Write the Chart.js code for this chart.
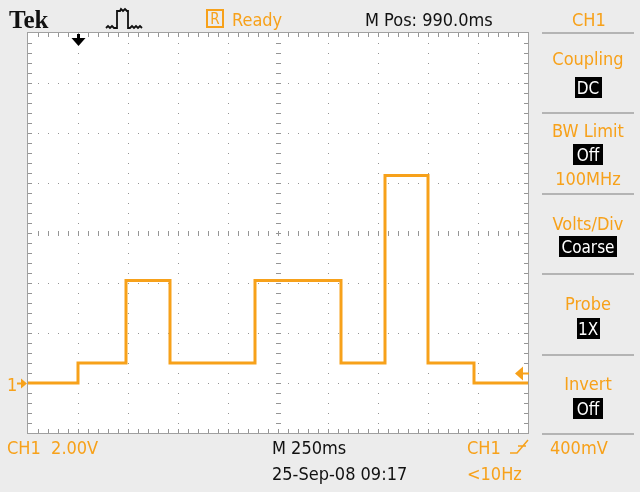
<!DOCTYPE html>
<html>
<head>
<meta charset="utf-8">
<script src="https://cdn.jsdelivr.net/npm/chart.js@4"></script>
<style>
  html, body { margin: 0; background: #ececec; }
  canvas { display: block; }
</style>
</head>
<body>
<canvas id="scope" width="640" height="492"></canvas>
<script>
// CH1 trace: time of each level change (ms from left screen edge) and the new level (V)
const edgeTimes = [0, 250, 490, 710, 1135, 1565, 1785, 2000, 2230, 2500];
const levels = [0, 0.8, 4.1, 0.8, 4.1, 0.8, 8.3, 0.8, 0, 0];

// graticule: 10 x 250 ms, 8 x 2.00 V
const timeDivs = [0, 250, 500, 750, 1000, 1250, 1500, 1750, 2000, 2250, 2500];
const voltDivs = [-2, 0, 2, 4, 6, 8, 10, 12, 14];
const triggerTime = 250;
const triggerLevel = 0.4;

const ORANGE = '#f7a11a';
const GRID = '#959595';
const FONT = '"DejaVu Sans Condensed", "Liberation Sans Narrow", sans-serif';

const scopeScreen = {
  id: 'scopeScreen',
  beforeDraw(chart) {
    const { ctx, chartArea: a, scales: { x, y } } = chart;
    ctx.save();
    ctx.fillStyle = '#ececec';
    ctx.fillRect(0, 0, chart.width, chart.height);
    ctx.fillStyle = '#ffffff';
    ctx.fillRect(a.left, a.top, a.right - a.left, a.bottom - a.top);

    const stepX = (a.right - a.left) / 50;
    const stepY = (a.bottom - a.top) / 40;

    // dotted division lines
    ctx.fillStyle = GRID;
    timeDivs.slice(1, -1).forEach((t) => {
      const px = Math.round(x.getPixelForValue(t));
      for (let py = a.top + stepY; py < a.bottom; py += stepY) {
        ctx.fillRect(px, Math.round(py), 1, 1);
      }
    });
    voltDivs.slice(1, -1).forEach((v) => {
      const py = Math.round(y.getPixelForValue(v));
      for (let px = a.left + stepX; px < a.right; px += stepX) {
        ctx.fillRect(Math.round(px), py, 1, 1);
      }
    });

    // center cross minor ticks
    const cx = Math.round(x.getPixelForValue(1250));
    const cy = Math.round(y.getPixelForValue(6));
    for (let py = a.top + stepY; py < a.bottom; py += stepY) {
      ctx.fillRect(cx - 2, Math.round(py), 5, 1);
    }
    for (let px = a.left + stepX; px < a.right; px += stepX) {
      ctx.fillRect(Math.round(px), cy - 2, 1, 5);
    }

    // frame and edge ticks
    for (let px = a.left + stepX; px < a.right; px += stepX) {
      ctx.fillRect(Math.round(px), a.top, 1, 4);
      ctx.fillRect(Math.round(px), a.bottom - 4, 1, 4);
    }
    for (let py = a.top + stepY; py < a.bottom; py += stepY) {
      ctx.fillRect(a.left, Math.round(py), 4, 1);
      ctx.fillRect(a.right - 4, Math.round(py), 4, 1);
    }
    ctx.strokeStyle = '#a0a0a0';
    ctx.lineWidth = 1;
    ctx.strokeRect(a.left - 0.5, a.top - 0.5, a.right - a.left + 1, a.bottom - a.top + 1);
    ctx.restore();
  },
  afterDraw(chart) {
    const { ctx, chartArea: a, scales: { x, y } } = chart;
    ctx.save();
    ctx.textBaseline = 'alphabetic';

    // header
    ctx.fillStyle = '#111';
    ctx.font = 'bold 25px "Liberation Serif", serif';
    ctx.fillText('Tek', 9, 28);

    ctx.strokeStyle = '#111';
    ctx.lineWidth = 1.8;
    ctx.beginPath();
    [[106, 28], [108, 26], [110, 28], [112, 26], [114, 28], [117, 28], [117, 11], [120, 11],
     [121, 9], [123, 11], [125, 9], [127, 11], [128, 11], [128, 28], [130, 28], [132, 26],
     [134, 28], [136, 26], [138, 28], [140, 26], [142, 28]].forEach(([px, py], i) => {
      if (i === 0) ctx.moveTo(px, py); else ctx.lineTo(px, py);
    });
    ctx.stroke();

    ctx.strokeStyle = ORANGE;
    ctx.lineWidth = 2;
    ctx.strokeRect(207, 10, 16, 17);
    ctx.fillStyle = ORANGE;
    ctx.font = '15px ' + FONT;
    ctx.textAlign = 'center';
    ctx.fillText('R', 215, 24);
    ctx.textAlign = 'left';
    ctx.font = '18px ' + FONT;
    ctx.fillText('Ready', 232, 26);

    ctx.fillStyle = '#111';
    ctx.fillText('M Pos: 990.0ms', 365, 26);
    ctx.fillStyle = ORANGE;
    ctx.fillText('CH1', 572, 26);

    // trigger position arrow
    const tx = Math.round(x.getPixelForValue(triggerTime)) + 0.5;
    ctx.fillStyle = '#000';
    ctx.fillRect(tx - 1.5, a.top + 1, 3, 6);
    ctx.beginPath();
    ctx.moveTo(tx - 7, a.top + 5);
    ctx.lineTo(tx + 7, a.top + 5);
    ctx.lineTo(tx, a.top + 13);
    ctx.closePath();
    ctx.fill();

    // ground reference marker
    const gy = Math.round(y.getPixelForValue(0)) + 0.5;
    ctx.fillStyle = ORANGE;
    ctx.font = '18px ' + FONT;
    ctx.fillText('1', 7, gy + 7);
    ctx.fillRect(17, gy - 1, 6, 2);
    ctx.beginPath();
    ctx.moveTo(a.left - 1, gy);
    ctx.lineTo(a.left - 7, gy - 5);
    ctx.lineTo(a.left - 7, gy + 5);
    ctx.closePath();
    ctx.fill();

    // trigger level marker
    const ly = Math.round(y.getPixelForValue(triggerLevel)) + 0.5;
    ctx.beginPath();
    ctx.moveTo(a.right - 13, ly);
    ctx.lineTo(a.right - 5, ly - 7);
    ctx.lineTo(a.right - 5, ly + 7);
    ctx.closePath();
    ctx.fill();
    ctx.fillRect(a.right - 6, ly - 1, 7, 2);

    // side menu
    ctx.fillStyle = '#b4b4b4';
    [33, 113, 194, 274, 355, 434].forEach((sy) => ctx.fillRect(542, sy - 1, 92, 2));

    const mx = 588;
    ctx.textAlign = 'center';
    const label = (t, by) => {
      ctx.fillStyle = ORANGE;
      ctx.font = '18px ' + FONT;
      ctx.fillText(t, mx, by);
    };
    const box = (t, by, w) => {
      ctx.fillStyle = '#000';
      ctx.fillRect(Math.round(mx - w / 2), by - 17, w, 21);
      ctx.fillStyle = '#fff';
      ctx.font = '17px ' + FONT;
      ctx.fillText(t, mx, by);
    };
    label('Coupling', 65);
    box('DC', 94, 27);
    label('BW Limit', 137);
    box('Off', 161, 30);
    label('100MHz', 185);
    label('Volts/Div', 230);
    box('Coarse', 253, 58);
    label('Probe', 310);
    box('1X', 335, 23);
    label('Invert', 390);
    box('Off', 415, 30);

    // bottom readouts
    ctx.textAlign = 'left';
    ctx.font = '18px ' + FONT;
    ctx.fillStyle = ORANGE;
    ctx.fillText('CH1  2.00V', 7, 454);
    ctx.fillText('CH1', 467, 454);
    ctx.fillText('400mV', 550, 454);
    ctx.fillText('<10Hz', 467, 480);
    ctx.strokeStyle = ORANGE;
    ctx.lineWidth = 1.5;
    ctx.beginPath();
    ctx.moveTo(510, 453);
    ctx.lineTo(517, 453);
    ctx.lineTo(528, 440);
    ctx.moveTo(518, 446);
    ctx.lineTo(526, 446);
    ctx.stroke();
    ctx.fillStyle = '#111';
    ctx.fillText('M 250ms', 272, 454);
    ctx.fillText('25-Sep-08 09:17', 272, 480);
    ctx.restore();
  }
};

new Chart(document.getElementById('scope').getContext('2d'), {
  type: 'line',
  data: {
    datasets: [
      {
        label: 'CH1',
        data: edgeTimes.map((t, i) => ({ x: t, y: levels[i] })),
        stepped: 'before',
        borderColor: ORANGE,
        borderWidth: 3,
        pointRadius: 0,
        fill: false
      }
    ]
  },
  options: {
    responsive: false,
    animation: false,
    events: [],
    layout: { padding: { left: 28, right: 112, top: 33, bottom: 59 } },
    plugins: { legend: { display: false }, tooltip: { enabled: false } },
    scales: {
      x: { type: 'linear', min: 0, max: 2500, display: false },
      y: { min: -2, max: 14, display: false }
    }
  },
  plugins: [scopeScreen]
});
</script>
</body>
</html>
